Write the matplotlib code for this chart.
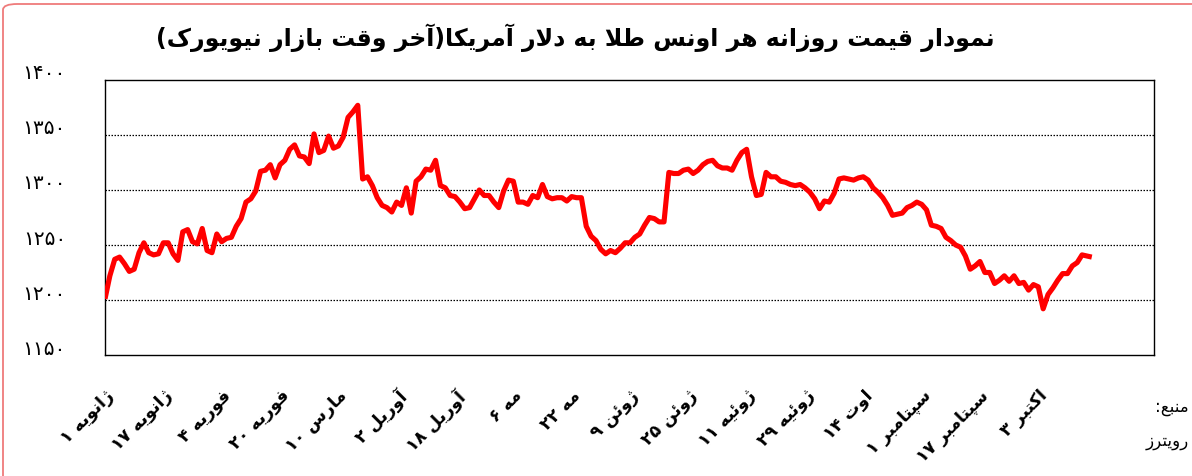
import re
import matplotlib
matplotlib.use("Agg")
import matplotlib.pyplot as plt
from matplotlib import font_manager
from matplotlib.font_manager import FontProperties
from matplotlib.ft2font import FT2Font
from matplotlib.transforms import ScaledTranslation
from matplotlib.patches import FancyBboxPatch
import matplotlib.patheffects as pe

# ---------------- data ----------------
title_text = "نمودار قیمت روزانه هر اونس طلا به دلار آمریکا(آخر وقت بازار نیویورک)"
x_labels = ["ژانویه ۱", "ژانویه ۱۷", "فوریه ۴", "فوریه ۲۰", "مارس ۱۰", "آوریل ۲",
            "آوریل ۱۸", "مه ۶", "مه ۲۲", "ژوئن ۹", "ژوئن ۲۵", "ژوئیه ۱۱",
            "ژوئیه ۲۹", "اوت ۱۴", "سپتامبر ۱", "سپتامبر ۱۷", "اکتبر ۳"]
label_step = 12
y_ticks = [1150, 1200, 1250, 1300, 1350, 1400]
y_labels = ["۱۱۵۰", "۱۲۰۰", "۱۲۵۰", "۱۳۰۰", "۱۳۵۰", "۱۴۰۰"]
source_label = "منبع:"
source_name = "رویترز"
n_categories = 215.8

price = [
    1201, 1222, 1237, 1239, 1233, 1226, 1228, 1243, 1252, 1243,
    1241, 1242, 1252, 1252, 1242, 1236, 1262, 1264, 1253, 1251,
    1265, 1245, 1243, 1260, 1253, 1256, 1257, 1267, 1274, 1289,
    1292, 1299, 1317, 1318, 1323, 1311, 1323,
    1327, 1337, 1341, 1331, 1330, 1324, 1351, 1334, 1336, 1349,
    1338, 1340, 1348, 1366, 1371, 1377, 1310, 1312, 1304, 1293,
    1286, 1284, 1280, 1289, 1286, 1302, 1279, 1308, 1312, 1319,
    1318, 1327,
    1304, 1302, 1295, 1294, 1289, 1283, 1284, 1292, 1300, 1295,
    1295, 1289, 1284, 1299, 1309, 1308, 1289, 1289, 1287, 1295,
    1293, 1305, 1294, 1292, 1293, 1293, 1290, 1294, 1293, 1293,
    1267, 1258, 1254, 1246, 1242, 1245, 1243,
    1247, 1252, 1252, 1257, 1260, 1268, 1275, 1274, 1271, 1271,
    1316, 1315, 1315, 1318, 1319, 1315, 1318, 1323, 1326, 1327,
    1322, 1320, 1320, 1318, 1327, 1334, 1337, 1312, 1295, 1296,
    1316, 1312, 1312, 1308,
    1307, 1305, 1304, 1305, 1302, 1298, 1292, 1283, 1290, 1289,
    1297, 1310, 1311, 1310, 1309, 1311, 1312, 1309, 1302, 1298,
    1293, 1286, 1277, 1278, 1279, 1284, 1286, 1289, 1287, 1282,
    1268, 1267, 1265, 1257, 1254,
    1250, 1248, 1240, 1228, 1231, 1235, 1225, 1225, 1215, 1218,
    1222, 1217, 1222, 1215, 1216, 1209, 1214, 1212, 1192, 1205,
    1211, 1218, 1224, 1224, 1231, 1234, 1241, 1240, 1239,
]

# ---------------- simple Persian shaping ----------------
FORMS = {
    '\u0622': ('\uFE81', '\uFE82', None, None),
    '\u0626': ('\uFE89', '\uFE8A', '\uFE8B', '\uFE8C'),
    '\u0627': ('\uFE8D', '\uFE8E', None, None),
    '\u0628': ('\uFE8F', '\uFE90', '\uFE91', '\uFE92'),
    '\u062A': ('\uFE95', '\uFE96', '\uFE97', '\uFE98'),
    '\u062E': ('\uFEA5', '\uFEA6', '\uFEA7', '\uFEA8'),
    '\u062F': ('\uFEA9', '\uFEAA', None, None),
    '\u0631': ('\uFEAD', '\uFEAE', None, None),
    '\u0632': ('\uFEAF', '\uFEB0', None, None),
    '\u0633': ('\uFEB1', '\uFEB2', '\uFEB3', '\uFEB4'),
    '\u0637': ('\uFEC1', '\uFEC2', '\uFEC3', '\uFEC4'),
    '\u0639': ('\uFEC9', '\uFECA', '\uFECB', '\uFECC'),
    '\u0641': ('\uFED1', '\uFED2', '\uFED3', '\uFED4'),
    '\u0642': ('\uFED5', '\uFED6', '\uFED7', '\uFED8'),
    '\u0644': ('\uFEDD', '\uFEDE', '\uFEDF', '\uFEE0'),
    '\u0645': ('\uFEE1', '\uFEE2', '\uFEE3', '\uFEE4'),
    '\u0646': ('\uFEE5', '\uFEE6', '\uFEE7', '\uFEE8'),
    '\u0647': ('\uFEE9', '\uFEEA', '\uFEEB', '\uFEEC'),
    '\u0648': ('\uFEED', '\uFEEE', None, None),
    '\u067E': ('\uFB56', '\uFB57', '\uFB58', '\uFB59'),
    '\u0698': ('\uFB8A', '\uFB8B', None, None),
    '\u06A9': ('\uFB8E', '\uFB8F', '\uFB90', '\uFB91'),
    '\u06CC': ('\uFBFC', '\uFBFD', '\uFBFE', '\uFBFF'),
}
FALLBACK = {
    '\u06CC': ('\uFEEF', '\uFEF0', '\uFEF3', '\uFEF4'),
    '\u06A9': ('\uFED9', '\uFEDA', '\uFEDB', '\uFEDC'),
    '\u067E': ('\uFE8F', '\uFE90', '\uFE91', '\uFE92'),
    '\u0698': ('\uFEAF', '\uFEB0', None, None),
}
LAMALEF = {'\u0627': ('\uFEFB', '\uFEFC'), '\u0622': ('\uFEF5', '\uFEF6')}
DIGITS = '[0-9\u06F0-\u06F9\u0660-\u0669]+'


def font_chars(weight):
    path = font_manager.findfont(FontProperties(family='DejaVu Sans', weight=weight))
    try:
        return set(FT2Font(path).get_charmap().keys())
    except Exception:
        return set()


REG = font_chars('normal')
BOLD = font_chars('bold')
bold_ok = 0xFE8D in BOLD and 0xFEE1 in BOLD

for k, v in list(FORMS.items()):
    if any(f is not None and ord(f) not in REG for f in v) and k in FALLBACK:
        FORMS[k] = FALLBACK[k]

digit_map = {}
for d in range(10):
    if (0x06F0 + d) not in REG:
        digit_map[chr(0x06F0 + d)] = chr(0x0660 + d)


def dual(c):
    return c in FORMS and FORMS[c][2] is not None


def shape(s):
    out = []
    i = 0
    n = len(s)
    while i < n:
        c = s[i]
        if c not in FORMS:
            out.append(digit_map.get(c, c))
            i += 1
            continue
        jp = i > 0 and dual(s[i - 1])
        if c == '\u0644' and i + 1 < n and s[i + 1] in LAMALEF:
            out.append(LAMALEF[s[i + 1]][1 if jp else 0])
            i += 2
            continue
        jn = dual(c) and i + 1 < n and s[i + 1] in FORMS
        iso, fin, ini, med = FORMS[c]
        if jp and jn:
            out.append(med)
        elif jp:
            out.append(fin)
        elif jn:
            out.append(ini)
        else:
            out.append(iso)
        i += 1
    return ''.join(out)


def visual(s):
    sh = shape(s)
    toks = re.findall(DIGITS + '|.', sh)
    v = ''.join(reversed(toks))
    return v.translate(str.maketrans('()', ')('))


# ---------------- figure ----------------
W, H = 1192, 477
fig = plt.figure(figsize=(W / 100, H / 100), dpi=100)
fig.patch.set_facecolor('white')

border = FancyBboxPatch((3 / W, -0.2), 1.3, 1.2 - 5 / H,
                        boxstyle='round,pad=0,rounding_size=0.012',
                        transform=fig.transFigure, fill=False,
                        edgecolor='#ef7b7b', linewidth=1.3)
fig.patches.append(border)

L, R, T, B = 105, 1154, 81, 356
ax = fig.add_axes([L / W, 1 - B / H, (R - L) / W, (B - T) / H])

x = list(range(len(price)))
ax.plot(x, price, color='#ff0000', linewidth=3.7,
        solid_joinstyle='round', solid_capstyle='butt', zorder=3)

ax.set_xlim(0, n_categories)
ax.set_ylim(y_ticks[0], y_ticks[-1])

for yv in y_ticks[1:-1]:
    ax.axhline(yv, color='black', linewidth=0.9, linestyle=(0, (1.2, 1.2)), zorder=1)

for sp in ax.spines.values():
    sp.set_color('black')
    sp.set_linewidth(1.0)

fw = 'bold' if bold_ok else 'normal'
bold_fx = [] if bold_ok else [pe.withStroke(linewidth=0.8, foreground='black')]

ax.set_yticks(y_ticks)
ax.set_yticklabels([visual(t) for t in y_labels], fontsize=14.5,
                   fontfamily='DejaVu Sans')
ax.tick_params(axis='y', length=0, pad=28)
for lab in ax.get_yticklabels():
    lab.set_transform(lab.get_transform() + ScaledTranslation(0, 9 / 100, fig.dpi_scale_trans))

xt = [i * label_step for i in range(len(x_labels))]
ax.set_xticks(xt)
ax.set_xticklabels([visual(t) for t in x_labels], rotation=45, ha='right',
                   va='top', rotation_mode='anchor', fontsize=12.5,
                   fontfamily='DejaVu Sans', fontweight=fw)
ax.tick_params(axis='x', length=0, pad=22)
for lab in ax.get_xticklabels():
    lab.set_transform(lab.get_transform() + ScaledTranslation(0, 0, fig.dpi_scale_trans))
    lab.set_path_effects(bold_fx)

t = fig.text(575 / W, 1 - 38 / H, visual(title_text), ha='center', va='center',
             fontsize=17, fontweight=fw, fontfamily='DejaVu Sans')
t.set_path_effects(bold_fx)

fig.text(1189 / W, 1 - 407 / H, visual(source_label), ha='right', va='center',
         fontsize=12, fontfamily='DejaVu Sans')
fig.text(1189 / W, 1 - 441 / H, visual(source_name), ha='right', va='center',
         fontsize=12, fontfamily='DejaVu Sans')

fig.savefig('out.png', dpi=100, facecolor='white')
